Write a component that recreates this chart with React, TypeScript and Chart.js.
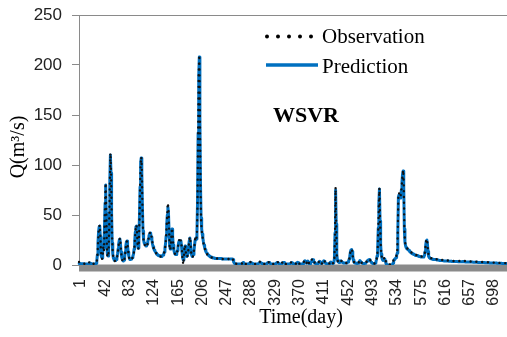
import React, { useEffect, useRef } from "react";
import { Chart, registerables } from "chart.js";

Chart.register(...registerables);

// Daily discharge Q (m³/s), day 1 .. day 730, ten days per row
const observation: number[] = [
  3, 2.5, 2, 1.8, 1.6, 1.5, 1.4, 1.3, 1.3, 1.2,
  1.2, 1.1, 1.1, 1, 1, 1, 1.2, 2.5, 3.5, 2.8,
  2, 1.6, 1.4, 1.3, 1.2, 1.2, 1.1, 1.1, 1.2, 1.5,
  3, 8, 20, 32, 38, 40, 30, 14, 8, 6,
  10, 18, 14, 35, 60, 82, 55, 20, 9, 8,
  14, 40, 80, 112, 95, 55, 25, 12, 7, 5,
  4, 4, 4.5, 5, 7, 10, 15, 20, 24, 27,
  22, 14, 8, 5, 3.5, 3, 4, 7, 12, 18,
  22, 24, 20, 14, 9, 6, 5, 5, 5.5, 6,
  7, 8, 10, 14, 22, 32, 38, 40, 32, 20,
  16, 22, 45, 75, 100, 108, 95, 60, 35, 25,
  21, 20, 19, 18, 18, 20, 22, 25, 28, 31,
  33, 32, 30, 26, 22, 19, 17, 15, 14, 13,
  12, 11, 10.5, 10, 9.5, 9, 9, 8.5, 8.5, 8.5,
  9, 9.5, 10, 11, 13, 16, 20, 28, 40, 52,
  62, 55, 35, 18, 15, 20, 30, 37, 30, 20,
  15, 12, 11, 10, 10, 12, 14, 18, 22, 25,
  22, 24, 25, 20, 12, 5, 0.5, 8, 17, 20,
  14, 9, 8, 9, 12, 18, 24, 28, 24, 14,
  9, 8, 8, 10, 14, 20, 26, 28, 26, 30,
  60, 130, 190, 210, 150, 80, 45, 35, 30, 26,
  22, 19, 17, 15, 13, 12, 11, 10, 9.5, 9,
  8.5, 8, 8, 7.5, 7.5, 7, 7, 7, 7, 6.5,
  6.5, 6.5, 6.5, 6.5, 6.5, 6.5, 6.5, 6.5, 6.5, 6.5,
  6.5, 6, 6, 6, 6, 6, 6, 6, 6, 6,
  6, 6, 6, 6, 6, 6, 6.5, 7, 7, 6.5,
  5, 3, 2, 1.5, 1.5, 1.2, 1.2, 1.1, 1, 1,
  1, 1, 1, 1.1, 1.2, 1.5, 2.5, 3.2, 2.2, 1.4,
  1.2, 1.1, 1, 1, 1, 1, 1.1, 1.4, 2.4, 3.2,
  2.6, 3, 2, 1.4, 1.2, 1.1, 1, 1, 1, 1,
  1, 1.1, 1.3, 1.8, 2.6, 3.4, 2.8, 3.2, 2.4, 1.5,
  1.2, 1.1, 1, 1, 1, 1, 1.1, 1.6, 2.8, 3.2,
  2.6, 3.3, 2.4, 1.5, 1.2, 1.1, 1, 1, 1, 1,
  1, 1.1, 1.4, 2.2, 3, 3.3, 2.6, 1.6, 1.2, 1.1,
  1, 1.1, 1.5, 2.6, 3.5, 2.8, 3.2, 2.2, 1.4, 1.1,
  1, 1, 1, 1, 1, 1.1, 1.3, 2, 2.8, 3,
  2.4, 1.6, 1.2, 1.1, 1, 1.1, 1.4, 2.2, 3.2, 3.6,
  2.8, 1.8, 1.3, 1.1, 1, 1, 1, 1.1, 1.4, 2.5,
  4, 5, 4.5, 3, 2, 4, 4.8, 3.4, 2, 1.4,
  1.5, 2.5, 4, 5.5, 6.5, 6, 4.5, 3, 2, 1.5,
  1.3, 1.2, 1.2, 1.3, 2, 3.5, 4.5, 3.5, 2.2, 1.5,
  1.5, 2.5, 4, 5, 4.2, 3, 2, 1.5, 1.3, 1.2,
  1.2, 1.2, 1.3, 2, 3.2, 3.5, 2.6, 1.8, 1.5, 2,
  2.5, 6, 30, 78, 40, 10, 5, 3.5, 3, 2.5,
  3, 4.5, 4.7, 4, 3, 2.5, 2.2, 2, 2, 2,
  2, 2, 2.2, 2.5, 3, 4, 6, 9, 13, 15.5,
  16, 14, 9, 5, 3, 2.2, 2, 1.8, 1.7, 1.6,
  1.6, 1.8, 2.5, 4, 5, 4.2, 3, 2.2, 1.8, 1.6,
  1.5, 1.5, 1.6, 1.8, 2.2, 3, 4, 5, 5.5, 6,
  6, 5.5, 4, 3, 2.2, 1.8, 1.6, 1.5, 1.5, 1.6,
  2, 3, 5, 8, 15, 35, 60, 77, 45, 22,
  12, 8, 6, 5, 5.5, 7, 8, 6, 3, 2,
  1.2, 0.8, 0.6, 0.5, 0.5, 0.5, 0.6, 0.8, 1.2, 2,
  3.5, 5, 6, 6.5, 7, 8, 10, 12, 35, 72,
  72, 70, 68, 70, 75, 82, 90, 95, 80, 38,
  24, 20, 18, 17, 16.5, 16, 15.5, 15, 14, 13.5,
  13, 12.5, 12, 12, 11.5, 11, 11, 10.5, 10, 10,
  10, 10, 9.5, 9.5, 9, 9, 9, 8.5, 8.5, 8.5,
  8.5, 8.5, 9, 10, 14, 20, 25, 26, 22, 14,
  9, 8, 7.5, 7, 7, 6.5, 6.5, 6.5, 6, 6,
  6, 6, 6, 6, 5.5, 5.5, 5.5, 5.5, 5, 5,
  5, 5, 5, 5, 5, 4.5, 4.5, 4.5, 4.5, 4.5,
  4.5, 4.5, 4.5, 4.5, 4.2, 4.2, 4.2, 4.2, 4.2, 4.2,
  4, 4, 4, 4, 4, 4, 4, 4, 4, 4,
  4, 4, 4, 4, 4, 4, 4, 4.2, 4.5, 4.2,
  4, 4, 3.8, 3.8, 3.8, 3.8, 3.8, 3.8, 3.5, 3.5,
  3.5, 3.5, 3.5, 3.5, 3.5, 3.5, 3.3, 3.3, 3.3, 3.3,
  3.2, 3.2, 3.2, 3.2, 3.1, 3.1, 3, 3, 3, 3,
  3, 3, 3, 3, 2.9, 2.9, 2.8, 2.8, 2.8, 2.8,
  2.7, 2.7, 2.7, 2.6, 2.6, 2.6, 2.5, 2.5, 2.5, 2.5,
  2.4, 2.4, 2.4, 2.3, 2.3, 2.3, 2.2, 2.2, 2.2, 2.1,
  2.1, 2.1, 2, 2, 2, 2, 2, 1.9, 1.9, 1.9,
  1.9, 1.8, 1.8, 1.8, 1.8, 1.7, 1.7, 1.7, 1.7, 1.7,
];

const prediction: number[] = [
  1.5, 1.5, 1.4, 1.4, 1.3, 1.3, 1.3, 1.2, 1.2, 1.2,
  1.2, 1.1, 1.1, 1.1, 1.1, 1.1, 1.2, 1.6, 2, 1.8,
  1.5, 1.3, 1.2, 1.2, 1.1, 1.1, 1.1, 1.1, 1.2, 1.8,
  4, 10, 22, 33, 38, 39, 28, 13, 8, 7,
  12, 20, 16, 38, 62, 80, 52, 18, 10, 9,
  16, 45, 85, 110, 92, 52, 22, 11, 7, 5.5,
  4.5, 4.5, 5, 5.5, 8, 11, 16, 21, 25, 26,
  21, 13, 8, 5.5, 4.5, 4, 5, 8, 13, 19,
  23, 24, 19, 13, 9, 6.5, 5.5, 5.5, 6, 6.5,
  7.5, 9, 11, 16, 24, 33, 38, 39, 31, 20,
  17, 24, 48, 78, 102, 107, 92, 58, 34, 25,
  22, 21, 20, 19, 19, 21, 23, 26, 29, 31,
  32, 31, 28, 25, 21, 18.5, 16.5, 15, 14, 13,
  12, 11, 10.5, 10, 9.5, 9.5, 9, 9, 8.5, 8.5,
  9, 9.5, 10, 11, 13, 17, 21, 29, 40, 50,
  58, 52, 34, 19, 16, 21, 31, 36, 29, 20,
  15, 12.5, 11, 10.5, 10.5, 12, 14.5, 18, 22, 24,
  22, 23, 24, 19, 12, 7, 5, 9, 17, 19,
  14, 10, 8.5, 9.5, 12.5, 18, 24, 27, 23, 14,
  10, 8.5, 8.5, 10.5, 14, 20, 25, 27, 26, 31,
  62, 132, 188, 208, 148, 82, 47, 36, 31, 27,
  23, 20, 17.5, 15.5, 13.5, 12.5, 11.5, 10.5, 10, 9.5,
  9, 8.5, 8, 8, 7.5, 7.5, 7, 7, 7, 7,
  6.5, 6.5, 6.5, 6.5, 6.5, 6.5, 6.5, 6.5, 6.5, 6.5,
  6.5, 6.5, 6, 6, 6, 6, 6, 6, 6, 6,
  6, 6, 6, 6, 6, 6, 6, 6, 6, 6,
  5.5, 3, 1.8, 1.3, 1.2, 1.1, 1.1, 1, 1, 1,
  1, 1, 1, 1, 1.1, 1.3, 2, 2.4, 1.8, 1.3,
  1.1, 1, 1, 1, 1, 1, 1, 1.3, 2, 2.4,
  2.2, 2.3, 1.7, 1.3, 1.1, 1, 1, 1, 1, 1,
  1, 1, 1.2, 1.6, 2.1, 2.5, 2.3, 2.4, 1.9, 1.4,
  1.1, 1, 1, 1, 1, 1, 1, 1.4, 2.2, 2.5,
  2.2, 2.5, 2, 1.4, 1.1, 1, 1, 1, 1, 1,
  1, 1, 1.3, 1.9, 2.4, 2.5, 2.1, 1.4, 1.1, 1,
  1, 1, 1.4, 2.1, 2.6, 2.3, 2.4, 1.8, 1.3, 1,
  1, 1, 1, 1, 1, 1, 1.2, 1.7, 2.2, 2.4,
  2, 1.4, 1.1, 1, 1, 1, 1.3, 1.9, 2.5, 2.7,
  2.2, 1.5, 1.2, 1, 1, 1, 1, 1, 1.3, 2.2,
  3.4, 4.2, 3.8, 2.6, 1.9, 3.4, 4, 2.9, 1.8, 1.3,
  1.4, 2.2, 3.5, 4.8, 5.5, 5.2, 4, 2.7, 1.8, 1.4,
  1.2, 1.1, 1.1, 1.2, 1.8, 3, 3.8, 3, 2, 1.4,
  1.4, 2.2, 3.4, 4.3, 3.7, 2.7, 1.8, 1.4, 1.2, 1.1,
  1.1, 1.1, 1.2, 1.8, 2.7, 3, 2.3, 1.6, 1.4, 1.9,
  2.4, 6.5, 32, 75, 41, 11, 5, 3.5, 3, 2.5,
  3, 4, 4.2, 3.6, 2.8, 2.4, 2.1, 2, 2, 2,
  2, 2, 2.2, 2.5, 3, 4, 6, 9, 13, 15,
  15.5, 13.5, 9, 5, 3, 2.2, 2, 1.8, 1.7, 1.6,
  1.6, 1.8, 2.4, 3.6, 4.4, 3.8, 2.8, 2.1, 1.8, 1.6,
  1.5, 1.5, 1.6, 1.8, 2.2, 2.9, 3.8, 4.6, 5, 5.3,
  5.4, 5, 3.8, 2.8, 2.1, 1.8, 1.6, 1.5, 1.5, 1.6,
  2, 3, 5.5, 9, 16, 37, 62, 76, 44, 21,
  11, 7.5, 5.5, 4.5, 4.5, 5.5, 6, 4, 1.5, 0.5,
  0.2, 0.1, 0.1, 0.1, 0.1, 0.1, 0.1, 0.1, 0.2, 0.6,
  2, 4, 5.5, 6, 6.5, 7.5, 9.5, 12, 33, 68,
  70, 68, 67, 69, 75, 83, 91, 94, 78, 36,
  23, 19.5, 17.5, 16.5, 16, 15.5, 15, 14.5, 13.5, 13,
  12.5, 12, 11.5, 11.5, 11, 10.5, 10.5, 10, 9.5, 9.5,
  9.5, 9.5, 9, 9, 8.5, 8.5, 8.5, 8, 8, 8,
  8, 8, 8.5, 9.5, 13.5, 19.5, 24, 25, 21, 13.5,
  8.5, 7.5, 7, 6.5, 6.5, 6, 6, 6, 5.5, 5.5,
  5.5, 5.5, 5.5, 5.5, 5, 5, 5, 5, 4.6, 4.6,
  4.5, 4.5, 4.5, 4.5, 4.4, 4.2, 4.1, 4, 4, 4,
  4, 4, 3.9, 3.9, 3.8, 3.8, 3.7, 3.7, 3.7, 3.6,
  3.6, 3.6, 3.5, 3.5, 3.5, 3.5, 3.4, 3.4, 3.4, 3.4,
  3.3, 3.3, 3.3, 3.3, 3.3, 3.2, 3.2, 3.3, 3.5, 3.3,
  3.2, 3.2, 3.1, 3.1, 3.1, 3.1, 3, 3, 3, 3,
  3, 2.9, 2.9, 2.9, 2.9, 2.8, 2.8, 2.8, 2.8, 2.7,
  2.7, 2.7, 2.7, 2.6, 2.6, 2.6, 2.6, 2.5, 2.5, 2.5,
  2.5, 2.4, 2.4, 2.4, 2.4, 2.3, 2.3, 2.3, 2.3, 2.2,
  2.2, 2.2, 2.2, 2.1, 2.1, 2.1, 2.1, 2, 2, 2,
  2, 1.9, 1.9, 1.9, 1.9, 1.8, 1.8, 1.8, 1.8, 1.7,
  1.7, 1.7, 1.7, 1.7, 1.6, 1.6, 1.6, 1.6, 1.6, 1.5,
  1.5, 1.5, 1.5, 1.5, 1.5, 1.4, 1.4, 1.4, 1.4, 1.4,
];

// Day numbers on the time axis
const days: string[] = observation.map((_, i) => String(i + 1));
const tickLabels: string[] = [
  "1", "42", "83", "124", "165", "206", "247", "288", "329",
  "370", "411", "452", "493", "534", "575", "616", "657", "698",
];

const seriesNames = ["Observation", "Prediction"];
const stationName = "WSVR";
const xTitle = "Time(day)";
const yTitle = "Q(m\u00B3/s)";

const BLUE = "#0070C0";
const AXIS_GREY = "#8a8a8a";
const SERIF = "'Liberation Serif', 'Times New Roman', serif";
const SANS = "'Liberation Sans', Arial, sans-serif";

const decorations = {
  id: "decorations",
  beforeDatasetsDraw(chart: any) {
    const { ctx, chartArea, scales } = chart;
    const y0 = scales.y.getPixelForValue(0);
    ctx.save();
    // thick grey base under the zero level
    ctx.fillStyle = AXIS_GREY;
    ctx.fillRect(chartArea.left, y0 - 0.5, chartArea.right - chartArea.left, 7);
    // frame line along the top
    ctx.strokeStyle = AXIS_GREY;
    ctx.lineWidth = 1;
    ctx.beginPath();
    ctx.moveTo(chartArea.left, Math.round(chartArea.top) + 0.5);
    ctx.lineTo(chartArea.right, Math.round(chartArea.top) + 0.5);
    ctx.stroke();
    ctx.restore();
  },
  afterDraw(chart: any) {
    const { ctx } = chart;
    ctx.save();
    // legend: dotted observation, solid prediction
    ctx.fillStyle = "#000";
    [267, 278, 289, 300, 311].forEach((x) => {
      ctx.beginPath();
      ctx.arc(x, 36.5, 2, 0, Math.PI * 2);
      ctx.fill();
    });
    ctx.strokeStyle = BLUE;
    ctx.lineWidth = 3.5;
    ctx.beginPath();
    ctx.moveTo(266, 65);
    ctx.lineTo(318, 65);
    ctx.stroke();

    ctx.fillStyle = "#000";
    ctx.textAlign = "left";
    ctx.textBaseline = "alphabetic";
    ctx.font = `21px ${SERIF}`;
    ctx.fillText(seriesNames[0], 322, 43);
    ctx.fillText(seriesNames[1], 322, 73);

    ctx.font = `bold 22px ${SERIF}`;
    ctx.fillText(stationName, 273, 122);

    // axis titles
    ctx.font = `20px ${SERIF}`;
    ctx.textAlign = "center";
    ctx.textBaseline = "middle";
    ctx.fillText(xTitle, 301, 318);
    ctx.translate(19, 147);
    ctx.rotate(-Math.PI / 2);
    ctx.fillText(yTitle, 0, 0);
    ctx.restore();
  },
};

export default function App() {
  const canvasRef = useRef<HTMLCanvasElement | null>(null);

  useEffect(() => {
    if (!canvasRef.current) return;
    const chart = new Chart(canvasRef.current, {
      type: "line",
      data: {
        labels: days,
        datasets: [
          {
            label: seriesNames[0],
            data: observation,
            borderColor: "#111",
            borderWidth: 2.4,
            borderDash: [0, 5.8],
            borderCapStyle: "round",
            borderJoinStyle: "round",
            pointRadius: 0,
            fill: false,
          },
          {
            label: seriesNames[1],
            data: prediction,
            borderColor: BLUE,
            borderWidth: 3,
            borderJoinStyle: "round",
            borderCapStyle: "round",
            pointRadius: 0,
            fill: false,
          },
        ],
      },
      options: {
        responsive: false,
        animation: false,
        events: [],
        layout: { padding: { top: 15, right: 0, left: 0, bottom: 0 } },
        plugins: {
          legend: { display: false },
          tooltip: { enabled: false },
          title: { display: false },
        },
        scales: {
          x: {
            type: "category",
            offset: false,
            grid: { display: false },
            border: { display: false },
            ticks: {
              autoSkip: false,
              minRotation: 90,
              maxRotation: 90,
              padding: 6,
              labelOffset: 2,
              color: "#222",
              font: { family: SANS, size: 16 },
              callback: (_v: any, index: number) =>
                tickLabels.includes(days[index]) ? days[index] : null,
            },
            afterFit: (scale: any) => {
              scale.height = 72;
              scale.paddingLeft = 0;
              scale.paddingRight = 0;
            },
          },
          y: {
            min: 0,
            max: 250,
            grid: {
              drawOnChartArea: false,
              drawTicks: true,
              tickLength: 7,
              color: AXIS_GREY,
            },
            border: { color: AXIS_GREY, width: 1 },
            ticks: {
              stepSize: 50,
              padding: 10,
              color: "#222",
              font: { family: SANS, size: 17 },
            },
            afterFit: (scale: any) => {
              scale.width = 79;
              scale.paddingTop = 0;
              scale.paddingBottom = 0;
            },
          },
        },
      },
      plugins: [decorations],
    });
    return () => chart.destroy();
  }, []);

  return (
    <div
      style={{
        position: "fixed",
        left: 0,
        top: 0,
        width: 507,
        height: 337,
        overflow: "hidden",
        background: "#fff",
      }}
    >
      <canvas ref={canvasRef} width={511} height={337} style={{ display: "block" }} />
    </div>
  );
}
